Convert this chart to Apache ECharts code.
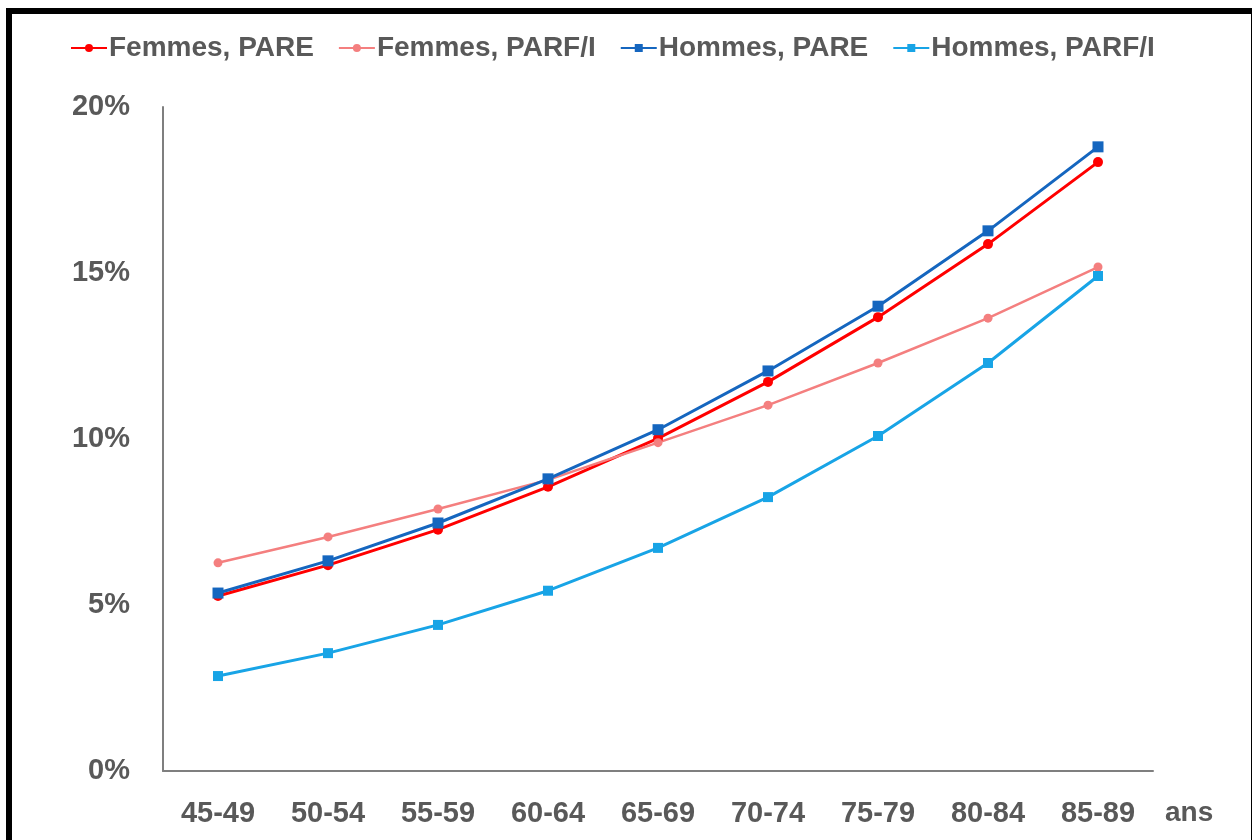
<!DOCTYPE html>
<html>
<head>
<meta charset="utf-8">
<script src="https://cdn.jsdelivr.net/npm/echarts@6/dist/echarts.min.js"></script>
<style>
  html, body { margin:0; padding:0; background:#fff; }
  #main { width:1252px; height:840px; position:relative; }
  .frame {
    position:absolute; left:6px; top:8px; width:1239px; height:840px;
    border-top:6px solid #000; border-left:6px solid #000; border-right:3px solid #000;
    pointer-events:none;
  }
</style>
</head>
<body>
<div id="main"></div>
<div class="frame"></div>
<script>
// age groups
var categories = ['45-49','50-54','55-59','60-64','65-69','70-74','75-79','80-84','85-89'];
// values in %
var femmesPARE  = [5.27, 6.2, 7.27, 8.56, 10.02, 11.72, 13.67, 15.87, 18.34];
var femmesPARFI = [6.27, 7.05, 7.89, 8.77, 9.89, 11.02, 12.29, 13.64, 15.18];
var hommesPARE  = [5.36, 6.33, 7.47, 8.8, 10.28, 12.05, 14.0, 16.27, 18.8];
var hommesPARFI = [2.86, 3.55, 4.4, 5.43, 6.72, 8.25, 10.09, 12.29, 14.91];
var seriesNames = ['Femmes, PARE', 'Femmes, PARF/I', 'Hommes, PARE', 'Hommes, PARF/I'];

var myChart = echarts.init(document.getElementById('main'));
var txt = '#595959';

function line(name, data, color, symbol, size, width) {
  return {
    name: name,
    type: 'line',
    data: data,
    symbol: symbol,
    symbolSize: size,
    lineStyle: { color: color, width: width },
    itemStyle: { color: color },
    animation: false
  };
}

var option = {
  backgroundColor: '#fff',
  legend: {
    left: 65,
    top: 29,
    itemWidth: 36,
    itemHeight: 10,
    itemGap: 24,
    textStyle: {
      fontFamily: 'Liberation Sans',
      fontWeight: 'bold',
      fontSize: 28,
      color: txt,
      padding: [0, 0, 0, -3]
    },
    data: seriesNames
  },
  grid: {
    left: 163,
    right: 99,
    top: 107,
    bottom: 69,
    containLabel: false
  },
  xAxis: {
    type: 'category',
    data: categories,
    boundaryGap: true,
    name: 'ans',
    nameLocation: 'end',
    nameGap: 12,
    nameTextStyle: {
      fontFamily: 'Liberation Sans',
      fontWeight: 'bold',
      fontSize: 28,
      color: txt,
      verticalAlign: 'top',
      padding: [28, 0, 0, 0]
    },
    axisLine: { lineStyle: { color: '#7f7f7f', width: 2 } },
    axisTick: { show: false },
    splitLine: { show: false },
    axisLabel: {
      fontFamily: 'Liberation Sans',
      fontWeight: 'bold',
      fontSize: 29,
      color: txt,
      margin: 28
    }
  },
  yAxis: {
    type: 'value',
    min: 0,
    max: 20,
    interval: 5,
    axisLine: { show: true, lineStyle: { color: '#7f7f7f', width: 2 } },
    axisTick: { show: false },
    splitLine: { show: false },
    axisLabel: {
      formatter: '{value}%',
      fontFamily: 'Liberation Sans',
      fontWeight: 'bold',
      fontSize: 29,
      color: txt,
      margin: 33
    }
  },
  series: [
    line(seriesNames[0], femmesPARE, '#FF0000', 'circle', 10, 3),
    line(seriesNames[1], femmesPARFI, '#F47F7F', 'circle', 9, 2.5),
    line(seriesNames[2], hommesPARE, '#1566BF', 'rect', 11, 3),
    line(seriesNames[3], hommesPARFI, '#18A4E6', 'rect', 10, 3)
  ]
};

myChart.setOption(option);
</script>
</body>
</html>
